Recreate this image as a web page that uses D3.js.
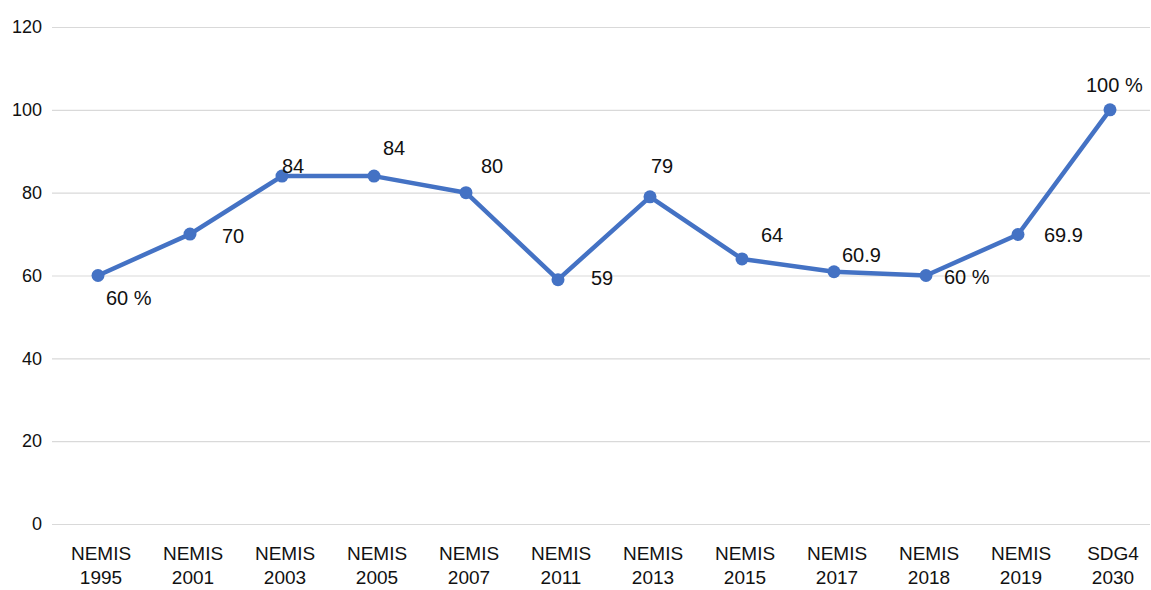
<!DOCTYPE html>
<html>
<head>
<meta charset="utf-8">
<script src="https://cdn.jsdelivr.net/npm/d3@7"></script>
<style>
  body { margin: 0; background: #fff; }
  svg text { font-family: "Liberation Sans", Arial, sans-serif; fill: #111; }
</style>
</head>
<body>
<svg id="root"></svg>
<script>
// data
const categories = ['NEMIS 1995', 'NEMIS 2001', 'NEMIS 2003', 'NEMIS 2005', 'NEMIS 2007', 'NEMIS 2011',
                    'NEMIS 2013', 'NEMIS 2015', 'NEMIS 2017', 'NEMIS 2018', 'NEMIS 2019', 'SDG4 2030'];
const values = [60, 70, 84, 84, 80, 59, 79, 64, 60.9, 60, 69.9, 100];
const valueLabels = ['60 %', '70', '84', '84', '80', '59', '79', '64', '60.9', '60 %', '69.9', '100 %'];
const yTicks = [0, 20, 40, 60, 80, 100, 120];

// where each data label sits relative to its point (left edge, vertical middle)
const labelOffsets = [[8, 22], [32, 2], [0, -10], [9, -28], [15, -27], [33, -2],
                      [1, -31], [19, -24], [8, -17], [18, 1], [26, 1], [-24, -25]];

const W = 1151, H = 590;
const margin = { top: 27, right: 1, bottom: 66, left: 52 };

const svg = d3.select('#root').attr('width', W).attr('height', H);

// points spread a little past the right gridline end, as in the original
const x = d3.scaleBand()
    .domain(categories)
    .range([margin.left, W + 5]);
const y = d3.scaleLinear()
    .domain([0, 120])
    .range([H - margin.bottom, margin.top]);

const cx = c => x(c) + x.bandwidth() / 2;

// gridlines + y labels
const yAxis = d3.axisLeft(y)
    .tickValues(yTicks)
    .tickSize(-(W - margin.left - margin.right))
    .tickPadding(10);

const gy = svg.append('g')
    .attr('transform', `translate(${margin.left},0)`)
    .call(yAxis);
gy.select('.domain').remove();
gy.selectAll('.tick line').attr('stroke', '#d9d9d9').attr('stroke-width', 1.2);
gy.selectAll('.tick text')
    .style('font-size', '18px')
    .attr('fill', '#111');

// category labels, two lines each
const gx = svg.append('g');
categories.forEach(c => {
    const parts = c.split(' ');
    const t = gx.append('text')
        .attr('x', cx(c))
        .attr('text-anchor', 'middle')
        .style('font-size', '19px');
    t.append('tspan').attr('x', cx(c) + 3).attr('y', 560).text(parts[0]);
    t.append('tspan').attr('x', cx(c) + 3).attr('y', 584).text(parts[1]);
});

// line
const line = d3.line()
    .x((d, i) => cx(categories[i]))
    .y(d => y(d));

svg.append('path')
    .datum(values)
    .attr('fill', 'none')
    .attr('stroke', '#4472c4')
    .attr('stroke-width', 4.5)
    .attr('stroke-linejoin', 'round')
    .attr('d', line);

svg.selectAll('circle.pt')
    .data(values)
    .enter().append('circle')
    .attr('class', 'pt')
    .attr('cx', (d, i) => cx(categories[i]))
    .attr('cy', d => y(d))
    .attr('r', 6.5)
    .attr('fill', '#4472c4');

// data labels
svg.selectAll('text.lbl')
    .data(values)
    .enter().append('text')
    .attr('class', 'lbl')
    .attr('x', (d, i) => cx(categories[i]) + labelOffsets[i][0])
    .attr('y', (d, i) => y(d) + labelOffsets[i][1])
    .attr('dy', '0.35em')
    .style('font-size', '20px')
    .text((d, i) => valueLabels[i]);
</script>
</body>
</html>
